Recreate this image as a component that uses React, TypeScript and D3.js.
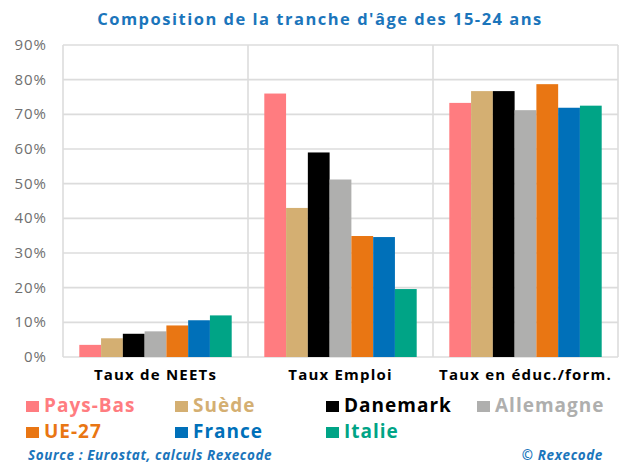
import * as d3 from 'd3'

// categories and series
const categories = ['Taux de NEETs', 'Taux Emploi', 'Taux en éduc./form.']
const countries = ['Pays-Bas', 'Suède', 'Danemark', 'Allemagne', 'UE-27', 'France', 'Italie']
const colors = ['#ff7c80', '#d4af72', '#000000', '#afafae', '#e97613', '#0070b9', '#00a486']

const paysBas = [3.5, 76.0, 73.3]
const suede = [5.4, 43.0, 76.7]
const danemark = [6.7, 59.0, 76.7]
const allemagne = [7.4, 51.2, 71.2]
const ue27 = [9.1, 34.9, 78.7]
const france = [10.6, 34.6, 71.9]
const italie = [12.0, 19.6, 72.5]

const yTicks = [0, 10, 20, 30, 40, 50, 60, 70, 80, 90]

const series = [paysBas, suede, danemark, allemagne, ue27, france, italie]

const W = 621
const H = 464
const left = 63
const right = 618
const top = 45
const bottom = 357
const font = '"Open Sans", Lato, sans-serif'

export default function App() {
    const x0 = d3.scaleBand().domain(categories).range([left, right])
    const x1 = d3.scaleBand()
                 .domain(countries)
                 .range([16.3, x0.bandwidth() - 16.3])
    const y = d3.scaleLinear().domain([0, 90]).range([bottom, top])

    const legendRows = [[0, 1, 2, 3], [4, 5, 6]]
    const legendX = [26, 175, 326, 477]

    return (
        <svg width={W} height={H} style={{ position: 'absolute', left: 0, top: 0, background: '#fff' }}>
            <text x={320} y={25} textAnchor="middle" fontFamily={font} fontWeight="bold"
                  fontSize={16.5} letterSpacing={1.5} fill="#1b75bb">Composition de la tranche d'âge des 15-24 ans</text>

            {yTicks.map(t => (
                <g key={t}>
                    <line x1={left} x2={right} y1={y(t)} y2={y(t)} stroke="#dcdcdc" strokeWidth={1.6} />
                    <text x={47} y={y(t) + 5} textAnchor="end" fontFamily={font} fontSize={15}
                          letterSpacing={1} fill="#6f6f6f">{t}%</text>
                </g>
            ))}
            {[...categories.map(c => x0(c)), right].map((v, i) => (
                <line key={i} x1={v} x2={v} y1={top} y2={bottom} stroke="#dcdcdc" strokeWidth={1.6} />
            ))}

            {categories.map((c, ci) => (
                <g key={c} transform={`translate(${x0(c)},0)`}>
                    {countries.map((k, si) => (
                        <rect key={k} x={x1(k)} width={x1.bandwidth()}
                              y={y(series[si][ci])} height={bottom - y(series[si][ci])}
                              fill={colors[si]} />
                    ))}
                    <text x={x0.bandwidth() / 2} y={380} textAnchor="middle" fontFamily={font}
                          fontWeight="bold" fontSize={15} letterSpacing={1.2} fill="#000">{c}</text>
                </g>
            ))}

            {legendRows.map((row, ri) => row.map((si, j) => (
                <g key={si} transform={`translate(${legendX[j]},${412 + ri * 26})`}>
                    <rect x={0} y={-11} width={13} height={11} fill={colors[si]} />
                    <text x={18} y={0} fontFamily={font} fontWeight="bold" fontSize={19}
                          letterSpacing={1} fill={colors[si]}>{countries[si]}</text>
                </g>
            )))}

            <text x={28} y={460} fontFamily={font} fontWeight="bold" fontStyle="italic"
                  fontSize={13.5} letterSpacing={0.6} fill="#1b75bb">Source : Eurostat, calculs Rexecode</text>
            <text x={603} y={460} textAnchor="end" fontFamily={font} fontWeight="bold"
                  fontStyle="italic" fontSize={13.5} letterSpacing={0.6} fill="#1b75bb">© Rexecode</text>
        </svg>
    )
}
